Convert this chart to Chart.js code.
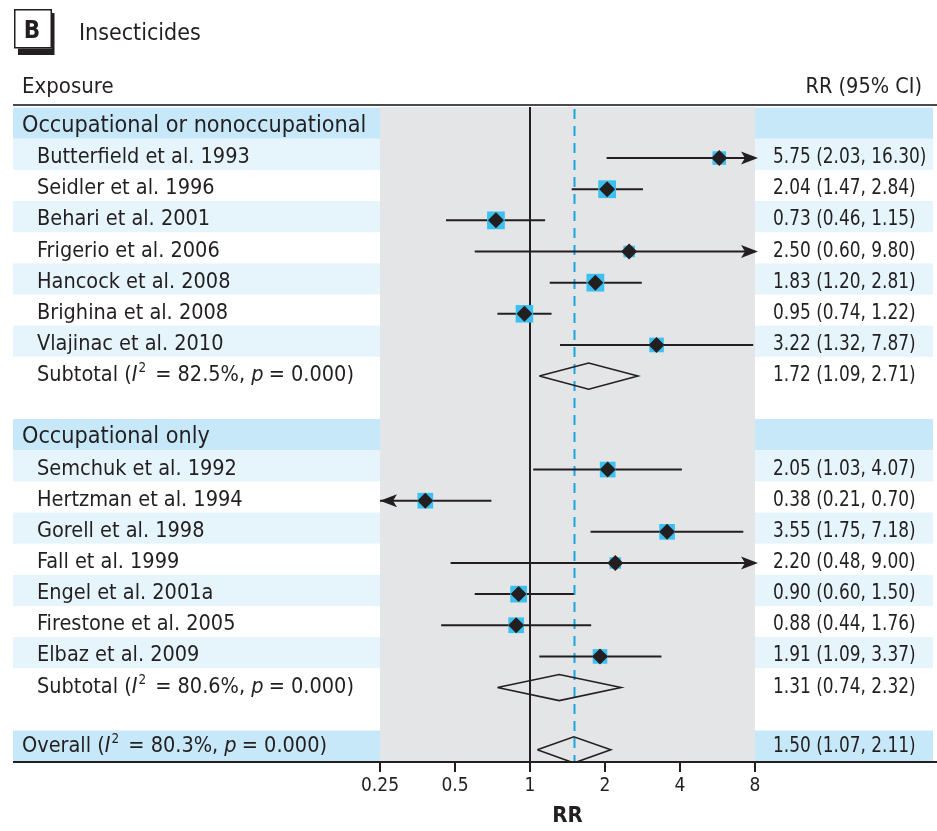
<!DOCTYPE html>
<html><head><meta charset="utf-8">
<script src="https://cdn.jsdelivr.net/npm/chart.js@4/dist/chart.umd.min.js"></script>
<style>html,body{margin:0;padding:0;background:#fff;}canvas{display:block;}</style>
</head><body>
<canvas id="c" width="937" height="831"></canvas>
<script>
// ---------------- data ----------------
const panelLetter = 'B';
const panelTitle = 'Insecticides';
const colHeaderLeft = 'Exposure';
const colHeaderRight = 'RR (95% CI)';
const axisTitle = 'RR';
const xTickValues = [0.25, 0.5, 1, 2, 4, 8];
const xTickLabels = ['0.25', '0.5', '1', '2', '4', '8'];
const nullValue = 1;

const rowLabels = [
  'Occupational or nonoccupational',
  'Butterfield et al. 1993',
  'Seidler et al. 1996',
  'Behari et al. 2001',
  'Frigerio et al. 2006',
  'Hancock et al. 2008',
  'Brighina et al. 2008',
  'Vlajinac et al. 2010',
  'Subtotal',
  '',
  'Occupational only',
  'Semchuk et al. 1992',
  'Hertzman et al. 1994',
  'Gorell et al. 1998',
  'Fall et al. 1999',
  'Engel et al. 2001a',
  'Firestone et al. 2005',
  'Elbaz et al. 2009',
  'Subtotal',
  '',
  'Overall'
];
const rowTypes = [
  'group', 'study', 'study', 'study', 'study', 'study', 'study', 'study', 'pooled', 'blank',
  'group', 'study', 'study', 'study', 'study', 'study', 'study', 'study', 'pooled', 'blank',
  'overall'
];
const rr =      [null, 5.75, 2.04, 0.73, 2.50, 1.83, 0.95, 3.22, 1.72, null, null, 2.05, 0.38, 3.55, 2.20, 0.90, 0.88, 1.91, 1.31, null, 1.50];
const ciLower = [null, 2.03, 1.47, 0.46, 0.60, 1.20, 0.74, 1.32, 1.09, null, null, 1.03, 0.21, 1.75, 0.48, 0.60, 0.44, 1.09, 0.74, null, 1.07];
const ciUpper = [null, 16.30, 2.84, 1.15, 9.80, 2.81, 1.22, 7.87, 2.71, null, null, 4.07, 0.70, 7.18, 9.00, 1.50, 1.76, 3.37, 2.32, null, 2.11];
const studyWeight = [null, 9.6, 16.4, 16.4, 6.9, 16.4, 16.0, 11.1, null, null, null, 12.8, 12.8, 12.8, 6.9, 14.5, 12.8, 11.1, null, null, null];
const hetI2 = [null, null, null, null, null, null, null, null, 82.5, null, null, null, null, null, null, null, null, null, 80.6, null, 80.3];
const hetP =  [null, null, null, null, null, null, null, null, '0.000', null, null, null, null, null, null, null, null, null, '0.000', null, '0.000'];

// ---------------- styles ----------------
const FAMILY = "'DejaVu Sans Condensed', 'DejaVu Sans', sans-serif";
const F = (size, style) => `${style || ''} ${size}px ${FAMILY}`;
const INK = '#231f20';
const BAND_DARK = '#c6e8f8';
const BAND_LIGHT = '#e6f5fc';
const PLOT_BG = '#e4e5e7';
const BOX_COLOR = '#3cc0f0';
const DASH_COLOR = '#1ba6e0';
const LABEL_SIZE = 21.5;
const GROUP_SIZE = 22.5;
const NUM_SIZE = 20.5;
const NUM_SX = 0.92;
const DIAMOND_HALF = 0.42;

// ---------------- derived datasets ----------------
const studyRows = rowTypes.map((t, i) => t === 'study' ? i : -1).filter(i => i >= 0);
const pooledRows = rowTypes.map((t, i) => (t === 'pooled' || t === 'overall') ? i : -1).filter(i => i >= 0);
const overallRow = rowTypes.indexOf('overall');

const ciData = [];
studyRows.forEach(i => { ciData.push({x: ciLower[i], y: i}, {x: ciUpper[i], y: i}, {x: null, y: null}); });
const pooledData = [];
pooledRows.forEach(i => {
  pooledData.push({x: ciLower[i], y: i}, {x: rr[i], y: i - DIAMOND_HALF}, {x: ciUpper[i], y: i},
                  {x: rr[i], y: i + DIAMOND_HALF}, {x: ciLower[i], y: i}, {x: null, y: null});
});
const pointData = studyRows.map(i => ({x: rr[i], y: i}));
const boxRadius = studyRows.map(i => 3.1 * Math.sqrt(studyWeight[i]));

function scaledText(ctx, s, x, y, font, align, sx) {
  ctx.save();
  ctx.font = font; ctx.fillStyle = INK; ctx.textAlign = align || 'left'; ctx.textBaseline = 'alphabetic';
  ctx.translate(x, y); ctx.scale(sx || 1, 1); ctx.fillText(s, 0, 0);
  ctx.restore();
}
function hetLabel(ctx, prefix, i2, p, x, y) {
  ctx.save();
  ctx.fillStyle = INK; ctx.textAlign = 'left'; ctx.textBaseline = 'alphabetic';
  let cx = x;
  const seg = (s, font, dy, after) => { ctx.font = font; ctx.fillText(s, cx, y + (dy || 0)); cx += ctx.measureText(s).width + (after || 0); };
  seg(prefix + ' (', F(LABEL_SIZE));
  seg('I', F(LABEL_SIZE, 'italic'), 0, 1);
  seg('2', F(LABEL_SIZE * 0.62), -9, 3);
  seg(' = ' + i2.toFixed(1) + '%, ', F(LABEL_SIZE));
  seg('p', F(LABEL_SIZE, 'italic'), 0, -1);
  seg(' = ' + p + ')', F(LABEL_SIZE));
  ctx.restore();
}

const forestPlugin = {
  id: 'forest',
  beforeDraw(chart) {
    const {ctx, chartArea: a, scales: {y}} = chart;
    ctx.save();
    // row bands
    let k = 0;
    rowTypes.forEach((t, i) => {
      let col = null;
      if (t === 'group') { col = BAND_DARK; k = 0; }
      else if (t === 'overall') col = BAND_DARK;
      else if (t === 'study') { col = (k % 2 === 0) ? BAND_LIGHT : null; k++; }
      if (!col) return;
      const t0 = y.getPixelForValue(i - 0.62), t1 = y.getPixelForValue(i + 0.38);
      ctx.fillStyle = col;
      ctx.fillRect(13, t0, a.left - 13, t1 - t0);
      ctx.fillRect(a.right, t0, 933 - a.right, t1 - t0);
    });
    // plot background
    ctx.fillStyle = PLOT_BG;
    ctx.fillRect(a.left, a.top, a.right - a.left, a.bottom - a.top);
    // top rule
    ctx.strokeStyle = '#4a4a4c'; ctx.lineWidth = 2;
    ctx.beginPath(); ctx.moveTo(13, a.top - 2); ctx.lineTo(937, a.top - 2); ctx.stroke();
    ctx.restore();
  },
  beforeDatasetsDraw(chart) {
    const {ctx, chartArea: a, scales: {x}} = chart;
    ctx.save();
    const px1 = Math.round(x.getPixelForValue(nullValue));
    ctx.strokeStyle = INK; ctx.lineWidth = 2;
    ctx.beginPath(); ctx.moveTo(px1, a.top); ctx.lineTo(px1, a.bottom); ctx.stroke();
    const pxo = Math.round(x.getPixelForValue(rr[overallRow])) + 0.5;
    ctx.strokeStyle = DASH_COLOR; ctx.lineWidth = 2; ctx.setLineDash([10, 7]);
    ctx.beginPath(); ctx.moveTo(pxo, a.top + 2); ctx.lineTo(pxo, a.bottom); ctx.stroke();
    ctx.restore();
  },
  afterDraw(chart) {
    const {ctx, chartArea: a, scales: {x, y}} = chart;
    ctx.save();
    // arrows for CIs beyond the axis range
    ctx.fillStyle = INK;
    const arrow = (tipX, py, dir) => {
      const L = 17, W = 6.5, N = 4;
      ctx.beginPath();
      ctx.moveTo(tipX, py);
      ctx.lineTo(tipX - dir * L, py - W);
      ctx.lineTo(tipX - dir * (L - N), py);
      ctx.lineTo(tipX - dir * L, py + W);
      ctx.closePath(); ctx.fill();
    };
    studyRows.forEach(i => {
      const py = y.getPixelForValue(i);
      if (ciUpper[i] > x.max) arrow(a.right + 3, py, 1);
      if (ciLower[i] < x.min) arrow(a.left, py, -1);
    });
    // bottom rule
    ctx.strokeStyle = INK; ctx.lineWidth = 2;
    ctx.beginPath(); ctx.moveTo(13, a.bottom); ctx.lineTo(937, a.bottom); ctx.stroke();

    // panel letter box
    ctx.fillStyle = INK; ctx.fillRect(18, 13, 36.5, 42);
    ctx.fillStyle = '#fff'; ctx.fillRect(14, 9, 38, 39.5);
    ctx.strokeStyle = INK; ctx.lineWidth = 1.5; ctx.strokeRect(14.75, 9.75, 36.5, 38);
    scaledText(ctx, panelLetter, 32, 38, F(24, 'bold'), 'center');
    scaledText(ctx, panelTitle, 79, 40, F(23));
    // column headers
    scaledText(ctx, colHeaderLeft, 22, 93, F(22));
    scaledText(ctx, colHeaderRight, 922, 93, F(21.5), 'right');

    // row labels and values
    rowTypes.forEach((t, i) => {
      if (t === 'blank') return;
      const by = y.getPixelForValue(i) + 5;
      if (t === 'group') scaledText(ctx, rowLabels[i], 22, by, F(GROUP_SIZE), 'left', 1.03);
      else if (t === 'study') scaledText(ctx, rowLabels[i], 37, by, F(LABEL_SIZE));
      else if (t === 'pooled') hetLabel(ctx, rowLabels[i], hetI2[i], hetP[i], 37, by);
      else if (t === 'overall') hetLabel(ctx, rowLabels[i], hetI2[i], hetP[i], 22, by - 3);
      if (rr[i] != null) {
        const s = `${rr[i].toFixed(2)} (${ciLower[i].toFixed(2)}, ${ciUpper[i].toFixed(2)})`;
        scaledText(ctx, s, a.right + 18, t === 'overall' ? by - 3 : by, F(NUM_SIZE), 'left', NUM_SX);
      }
    });
    ctx.restore();
  }
};

new Chart(document.getElementById('c'), {
  type: 'scatter',
  data: {
    datasets: [
      { type: 'scatter', data: pointData, pointStyle: 'rectRot', pointRadius: 8, backgroundColor: INK, borderWidth: 0, order: 0 },
      { type: 'scatter', data: pointData, pointStyle: 'rect', pointRadius: boxRadius, backgroundColor: BOX_COLOR, borderWidth: 0, order: 1 },
      { type: 'line', data: ciData, borderColor: INK, borderWidth: 2, pointRadius: 0, tension: 0, spanGaps: false, fill: false, order: 2 },
      { type: 'line', data: pooledData, borderColor: INK, borderWidth: 1.6, pointRadius: 0, tension: 0, spanGaps: false, fill: false, order: 3 }
    ]
  },
  options: {
    responsive: false,
    animation: false,
    devicePixelRatio: 1,
    events: [],
    layout: { padding: { left: 380, right: 182, top: 107, bottom: 0 } },
    plugins: { legend: { display: false }, tooltip: { enabled: false } },
    scales: {
      x: {
        type: 'logarithmic', min: xTickValues[0], max: xTickValues[xTickValues.length - 1],
        afterBuildTicks: s => { s.ticks = xTickValues.map(v => ({ value: v })); },
        afterFit: s => { s.height = 69; },
        ticks: {
          autoSkip: false, maxRotation: 0, padding: 3, color: INK,
          font: { family: FAMILY, size: 19 },
          callback: (v, idx) => xTickLabels[idx]
        },
        grid: { drawOnChartArea: false, drawTicks: true, tickLength: 10, color: INK, lineWidth: 2 },
        border: { display: true, color: INK, width: 2 },
        title: { display: true, text: axisTitle, color: INK, font: { family: FAMILY, size: 22, weight: 'bold' }, padding: { top: 0, bottom: 2 } }
      },
      y: { type: 'linear', reverse: true, min: -0.64, max: 20.39, display: false }
    }
  },
  plugins: [forestPlugin]
});
</script>
</body></html>
